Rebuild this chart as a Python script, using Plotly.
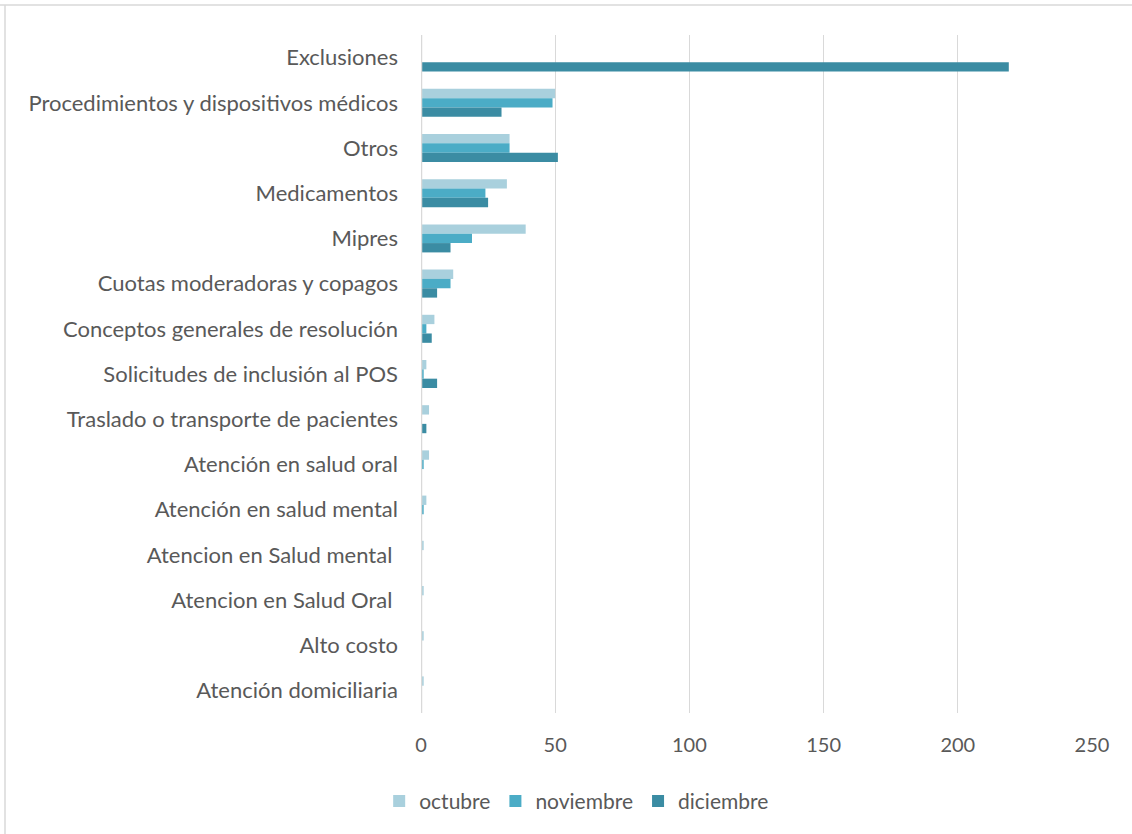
import plotly.graph_objects as go

categorias = [
    "Exclusiones",
    "Procedimientos y dispositivos médicos",
    "Otros",
    "Medicamentos",
    "Mipres",
    "Cuotas moderadoras y copagos",
    "Conceptos generales de resolución",
    "Solicitudes de inclusión al POS",
    "Traslado o transporte de pacientes",
    "Atención en salud oral",
    "Atención en salud mental",
    "Atencion en Salud mental ",
    "Atencion en Salud Oral ",
    "Alto costo",
    "Atención domiciliaria",
]

octubre = [0, 50, 33, 32, 39, 12, 5, 2, 3, 3, 2, 1, 1, 1, 1]
noviembre = [0, 49, 33, 24, 19, 11, 2, 1, 0, 1, 1, 0, 0, 0, 0]
diciembre = [219, 30, 51, 25, 11, 6, 4, 6, 2, 0, 0, 0, 0, 0, 0]

series = [
    ("octubre", octubre, "#a9d0dd"),
    ("noviembre", noviembre, "#4bacc6"),
    ("diciembre", diciembre, "#3b8ca3"),
]

fig = go.Figure()
for nombre, valores, color in series:
    fig.add_trace(go.Bar(
        name=nombre, y=categorias, x=valores, orientation="h",
        marker=dict(color=color, line=dict(width=0)),
    ))

font_family = "Lato, 'Open Sans', sans-serif"
fig.update_layout(
    width=1132, height=834,
    paper_bgcolor="white", plot_bgcolor="white",
    margin=dict(l=421, r=40, t=35, b=121),
    barmode="group", bargap=0.38, bargroupgap=0,
    font=dict(family=font_family, size=22, color="#595959"),
    xaxis=dict(
        range=[0, 250], dtick=50, showgrid=True, gridcolor="#d9d9d9", gridwidth=1,
        zeroline=False, showline=False, ticks="", ticklabelstandoff=18,
        tickfont=dict(size=20, color="#595959"),
    ),
    yaxis=dict(
        categoryorder="array", categoryarray=categorias, autorange="reversed",
        showgrid=False, zeroline=False, showline=False, ticks="",
        ticklabelstandoff=22, tickfont=dict(size=22, color="#595959"),
    ),
    legend=dict(
        orientation="h", x=0.232, xanchor="center", y=-0.1, yanchor="top",
        font=dict(size=21, color="#595959"), traceorder="normal",
        itemwidth=30,
    ),
    shapes=[
        # value axis baseline at zero
        dict(type="line", xref="x", yref="paper", x0=0, x1=0, y0=0, y1=1,
             line=dict(color="#d9d9d9", width=2.5)),
        # chart frame (top and left edges)
        dict(type="line", xref="paper", yref="paper", x0=-421/671, x1=1.1, y0=1 + 30/678, y1=1 + 30/678,
             line=dict(color="#d9d9d9", width=1.5)),
        dict(type="line", xref="paper", yref="paper", x0=-416/671, x1=-416/671, y0=-0.2, y1=1 + 30/678,
             line=dict(color="#d9d9d9", width=1.5)),
    ],
)

fig.write_html("out.html")
